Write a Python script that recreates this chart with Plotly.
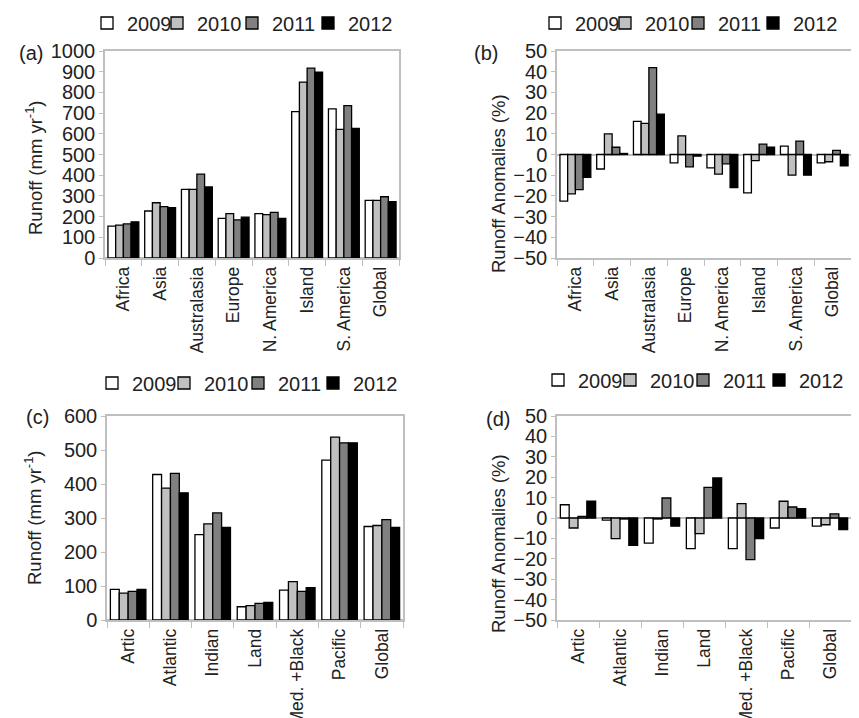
import plotly.graph_objects as go

years = ["2009", "2010", "2011", "2012"]

cats_a = ["Africa", "Asia", "Australasia", "Europe", "N. America", "Island", "S. America", "Global"]
a_2009 = [154, 227, 332, 191, 214, 707, 720, 278]
a_2010 = [159, 267, 332, 214, 210, 850, 621, 278]
a_2011 = [165, 248, 405, 184, 220, 917, 736, 296]
a_2012 = [175, 243, 343, 197, 191, 898, 626, 272]

b_2009 = [-22.5, -7, 16, -4, -6.5, -18.5, 4, -4]
b_2010 = [-19, 10, 15, 9, -9.5, -3, -10, -3.5]
b_2011 = [-17, 3.5, 42, -6, -4.5, 5, 6.5, 2]
b_2012 = [-11, 0.5, 19.5, -0.8, -16, 3.5, -10, -5.5]

cats_c = ["Artic", "Atlantic", "Indian", "Land", "Med. +Black", "Pacific", "Global"]
c_2009 = [90, 428, 251, 39, 88, 470, 275]
c_2010 = [79, 388, 283, 42, 113, 538, 278]
c_2011 = [84, 431, 315, 49, 84, 521, 295]
c_2012 = [90, 374, 272, 52, 95, 521, 272]

d_2009 = [6.5, -1, -12.3, -15, -15, -4.9, -4]
d_2010 = [-4.9, -10.1, -0.5, -7.7, 7, 8.2, -3.3]
d_2011 = [0.8, -0.5, 9.8, 15, -20.4, 5.4, 2]
d_2012 = [8.2, -13.4, -4, 19.6, -10.1, 4.6, -5.7]

colors = ["#ffffff", "#c0c0c0", "#808080", "#000000"]
W, H = 859, 718
FONT = "Liberation Sans, Arial, sans-serif"
TXT = "#222222"
AX = "#bfbfbf"


def px_x(p):
    return p / W


def px_y(p):
    return 1 - p / H


# legend key positions (left edge of key square, vertical centre), pixels
leg_pos = {
    "a": ([107, 177, 252, 328], 15),
    "b": ([555, 625, 698, 773], 15),
    "c": ([112, 184, 258, 333], 375),
    "d": ([558, 630, 703, 779], 372),
}

fig = go.Figure()

panels = [
    ("a", "x", "y", cats_a, [a_2009, a_2010, a_2011, a_2012]),
    ("b", "x2", "y2", cats_a, [b_2009, b_2010, b_2011, b_2012]),
    ("c", "x3", "y3", cats_c, [c_2009, c_2010, c_2011, c_2012]),
    ("d", "x4", "y4", cats_c, [d_2009, d_2010, d_2011, d_2012]),
]
legends = {}
n = 0
for key, xa, ya, cats, series in panels:
    xs, yc = leg_pos[key]
    for i, (yr, vals, col) in enumerate(zip(years, series, colors)):
        n += 1
        lname = "legend" if n == 1 else f"legend{n}"
        fig.add_trace(go.Bar(x=cats, y=vals, name=yr, xaxis=xa, yaxis=ya, legend=lname,
                             marker=dict(color=col, line=dict(color="#000000", width=1.3))))
        legends[lname] = dict(orientation="h", x=px_x(xs[i] - 28), y=px_y(yc),
                              xanchor="left", yanchor="middle",
                              font=dict(size=20, color=TXT, family=FONT),
                              bgcolor="rgba(0,0,0,0)", itemwidth=30)

dom = {
    "a": ([px_x(97), px_x(391)], [px_y(250), px_y(43)]),
    "b": ([px_x(549), px_x(843)], [px_y(250), px_y(43)]),
    "c": ([px_x(99), px_x(395)], [px_y(612), px_y(408)]),
    "d": ([px_x(549), px_x(843)], [px_y(612), px_y(408)]),
}


def xaxis(d, anchor):
    return dict(domain=d, anchor=anchor, showline=True, linecolor=AX, linewidth=1.5, mirror=True,
                ticks="outside", tickson="boundaries", ticklen=6, tickcolor=AX, tickangle=-90,
                tickfont=dict(size=17.5, color=TXT, family=FONT), showgrid=False, automargin=False)


def yaxis(d, anchor, rng, dt):
    return dict(domain=d, anchor=anchor, range=rng, dtick=dt, showline=True, linecolor=AX, linewidth=1.5,
                mirror=True, ticks="outside", ticklen=4, tickcolor=AX, showgrid=False,
                zeroline=True, zerolinecolor=AX, zerolinewidth=1.5,
                tickfont=dict(size=20, color=TXT, family=FONT), automargin=False)


ttl_r = "Runoff (mm yr<sup>-1</sup>)"
ttl_a = "Runoff Anomalies (%)"

fig.update_layout(
    width=W, height=H, margin=dict(l=0, r=0, t=0, b=0, autoexpand=False), autosize=False,
    plot_bgcolor="white", paper_bgcolor="white",
    barmode="group", bargap=0.16, bargroupgap=0,
    font=dict(family=FONT, color=TXT),
    xaxis=xaxis(dom["a"][0], "y"), yaxis=yaxis(dom["a"][1], "x", [0, 1000], 100),
    xaxis2=xaxis(dom["b"][0], "y2"), yaxis2=yaxis(dom["b"][1], "x2", [-50, 50], 10),
    xaxis3=xaxis(dom["c"][0], "y3"), yaxis3=yaxis(dom["c"][1], "x3", [0, 600], 100),
    xaxis4=xaxis(dom["d"][0], "y4"), yaxis4=yaxis(dom["d"][1], "x4", [-50, 50], 10),
    showlegend=True,
    **legends,
)

# y-axis titles
for txt, x, y in [(ttl_r, 26, 160), (ttl_a, 491, 176), (ttl_r, 25, 510), (ttl_a, 490, 536)]:
    fig.add_annotation(text=txt, x=px_x(x), y=px_y(y), xref="paper", yref="paper",
                       showarrow=False, textangle=-90, xanchor="center", yanchor="middle",
                       font=dict(size=18.5, color=TXT, family=FONT))

# panel labels
for lbl, x, y in [("(a)", 23, 45), ("(b)", 478, 45), ("(c)", 29, 409), ("(d)", 490, 411)]:
    fig.add_annotation(text=lbl, x=px_x(x), y=px_y(y), xref="paper", yref="paper",
                       showarrow=False, xanchor="center", yanchor="middle",
                       font=dict(size=20, color=TXT, family=FONT))

fig.write_html("out.html")
